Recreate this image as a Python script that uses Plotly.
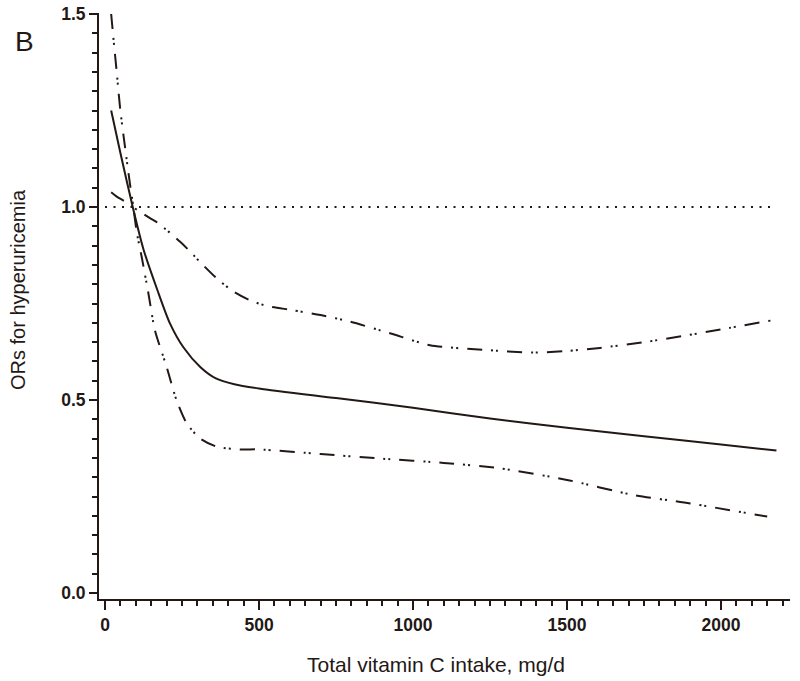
import plotly.graph_objects as go

# ---- data ----
or_x = [20, 50, 90, 125, 170, 210, 255, 310, 360, 420, 500, 750, 1000, 1250, 1500, 1750, 2000, 2180]
or_y = [1.25, 1.14, 1.0, 0.89, 0.785, 0.70, 0.636, 0.585, 0.556, 0.541, 0.530, 0.505, 0.480, 0.452, 0.428, 0.406, 0.385, 0.369]

ci_a_x = [20, 27, 38, 49, 65, 81, 92, 103, 119, 141, 162, 200, 232, 265, 308, 363, 438, 500, 700, 900, 1100, 1282, 1500, 1715, 1900, 2150]
ci_a_y = [1.50, 1.44, 1.35, 1.256, 1.155, 1.06, 1.0, 0.935, 0.871, 0.776, 0.681, 0.586, 0.5, 0.44, 0.401, 0.379, 0.372, 0.372, 0.36, 0.348, 0.337, 0.323, 0.293, 0.254, 0.232, 0.198]

ci_b_x = [20, 38, 65, 90, 146, 173, 244, 271, 308, 363, 417, 471, 525, 606, 700, 795, 925, 1055, 1228, 1391, 1500, 1607, 1750, 1878, 2000, 2170]
ci_b_y = [1.038, 1.027, 1.014, 1.0, 0.971, 0.958, 0.910, 0.889, 0.858, 0.815, 0.781, 0.758, 0.744, 0.733, 0.72, 0.703, 0.673, 0.642, 0.63, 0.623, 0.627, 0.635, 0.650, 0.666, 0.683, 0.707]

ref_x = [0, 2180]
ref_y = [1.0, 1.0]

x_ticks = [0, 500, 1000, 1500, 2000]
y_ticks = [0.0, 0.5, 1.0, 1.5]
y_tick_labels = ["0.0", "0.5", "1.0", "1.5"]

INK = "#231815"
DASHDOTDOT = "15px,9px,2px,3px,2px,9px"
FONT = "Liberation Sans, Arial, sans-serif"

fig = go.Figure()
fig.add_trace(go.Scatter(x=ref_x, y=ref_y, mode="lines",
                         line=dict(color=INK, width=2, dash="2px,6.5px"), hoverinfo="skip"))
fig.add_trace(go.Scatter(x=ci_a_x, y=ci_a_y, mode="lines", cliponaxis=False,
                         line=dict(color=INK, width=2, dash=DASHDOTDOT, shape="spline", smoothing=0.7)))
fig.add_trace(go.Scatter(x=ci_b_x, y=ci_b_y, mode="lines",
                         line=dict(color=INK, width=2, dash=DASHDOTDOT, shape="spline", smoothing=0.7)))
fig.add_trace(go.Scatter(x=or_x, y=or_y, mode="lines",
                         line=dict(color=INK, width=2, shape="spline", smoothing=0.7)))

tick_font = dict(family=FONT, size=17.5, color=INK, weight="bold")

W, H = 800, 681
L, T = 99, 13
PW, PH = 691, 586
R, B = W - L - PW, H - T - PH

def px_x(p):
    return (p - L) / PW

def px_y(p):
    return 1 - (p - T) / PH

fig.update_layout(
    width=W, height=H,
    margin=dict(l=L, r=R, t=T, b=B),
    paper_bgcolor="white", plot_bgcolor="white",
    showlegend=False,
    xaxis=dict(
        range=[-19.5, 2224], tickvals=x_ticks, ticks="outside", ticklen=9, tickwidth=2,
        tickcolor=INK, showline=True, linecolor=INK, linewidth=2, showgrid=False, zeroline=False,
        tickfont=tick_font, ticklabelstandoff=0, automargin=False, ticklabeloverflow="allow",
        minor=dict(dtick=50, tick0=0, ticks="outside", ticklen=5, tickwidth=2, tickcolor=INK, showgrid=False),
    ),
    yaxis=dict(
        range=[-0.0155, 1.5026], tickvals=y_ticks, ticktext=y_tick_labels, ticks="outside", ticklen=8, tickwidth=2,
        tickcolor=INK, showline=True, linecolor=INK, linewidth=2, showgrid=False, zeroline=False,
        tickfont=tick_font, automargin=False, ticklabeloverflow="allow",
        minor=dict(dtick=0.05, tick0=0, ticks="outside", ticklen=5, tickwidth=2, tickcolor=INK, showgrid=False),
    ),
    annotations=[
        dict(text="B", x=px_x(24), y=px_y(42), xref="paper", yref="paper", showarrow=False,
             xanchor="center", yanchor="middle", font=dict(family=FONT, size=28, color=INK)),
        dict(text="Total vitamin C intake, mg/d", x=px_x(436), y=px_y(664), xref="paper", yref="paper",
             showarrow=False, xanchor="center", yanchor="middle", font=dict(family=FONT, size=21, color=INK)),
        dict(text="ORs for hyperuricemia", x=px_x(18), y=px_y(290), xref="paper", yref="paper",
             showarrow=False, xanchor="center", yanchor="middle", textangle=-90,
             font=dict(family=FONT, size=20, color=INK)),
    ],
)

# remove the default 8px page margin so the 800x681 figure fills the window exactly
fig.write_html("out.html", config={"displayModeBar": False},
               post_script="document.body.style.margin='0';document.body.style.overflow='hidden';")
